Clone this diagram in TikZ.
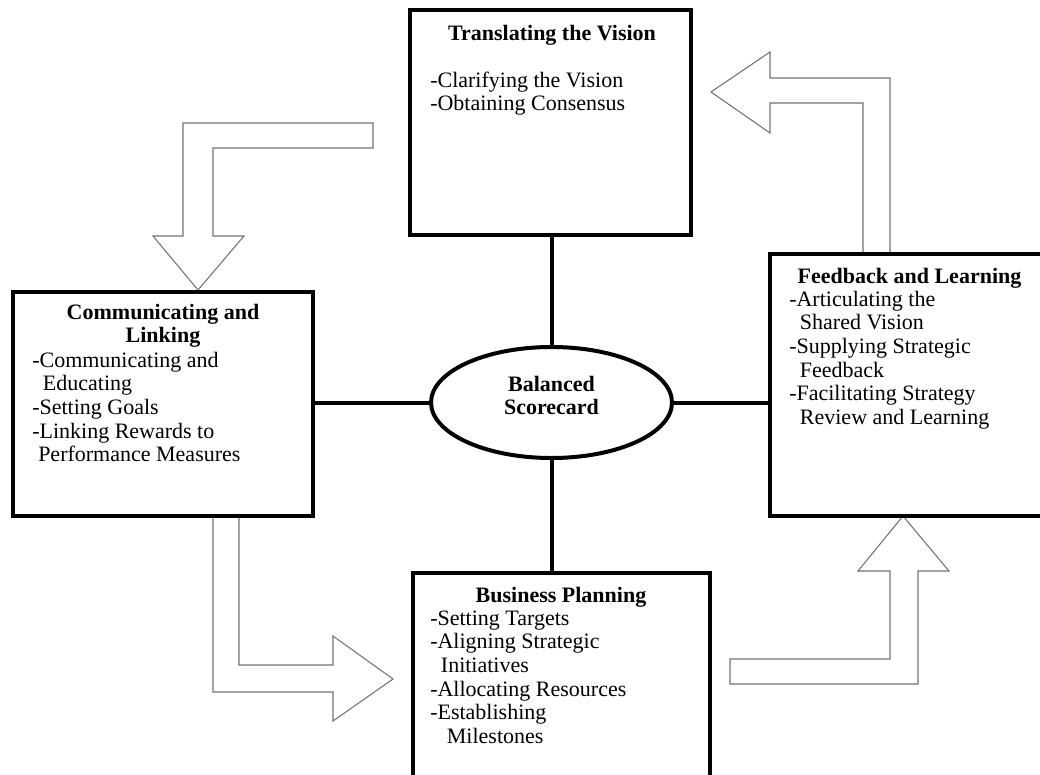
\documentclass[tikz,border=0pt]{standalone}
\usepackage{fontspec}
\setmainfont{Liberation Serif}
\usetikzlibrary{positioning,calc,fit,shapes.geometric}

% fixed height of a first line, so that its baseline lies 16px below the top
\newcommand{\topline}{\rule{0pt}{12pt}}

\tikzset{
  stage/.style={draw, line width=3.6pt, fill=white, inner sep=0pt},
  hub/.style={draw, ellipse, line width=3pt, fill=white, inner sep=0pt,
    minimum width=180.75pt, minimum height=83.25pt},
  link/.style={line width=3pt},
  head/.style={font=\fontsize{16.5}{17.7}\selectfont\bfseries, inner sep=0pt},
  items/.style={font=\fontsize{16.5}{17.7}\selectfont, align=left, inner sep=0pt, anchor=north west},
  blockarrow/.style={draw=black!55, line width=0.8pt, fill=white, line join=miter}
}

\begin{document}
\begin{tikzpicture}[x=0.75pt,y=-0.75pt]
 \useasboundingbox (0,0) rectangle (1040,775);

 %Arrows
 \draw[blockarrow] (373,123) -- (183,123) -- (183,236) -- (153,236) -- (198,290)
   -- (244,236) -- (213,236) -- (213,148) -- (373,148) -- cycle;
 \draw[blockarrow] (890,256) -- (890,78) -- (770,78) -- (770,52) -- (711,92)
   -- (770,133) -- (770,103) -- (863,103) -- (863,256) -- cycle;
 \draw[blockarrow] (213,515) -- (213,692) -- (333,692) -- (333,721) -- (393,679)
   -- (333,636) -- (333,665) -- (239,665) -- (239,515) -- cycle;
 \draw[blockarrow] (730,659) -- (890,659) -- (890,571) -- (858,571) -- (903,516)
   -- (949,571) -- (918,571) -- (918,684) -- (730,684) -- cycle;

 %Boxes
 \node[stage, fit={(410,10) (691,235)}] (vision) {};
 \node[stage, fit={(13,292) (313,516)}] (linking) {};
 \node[stage, fit={(770,254) (1049,516)}] (feedback) {};
 \node[stage, fit={(413,573) (710,813)}] (business) {};
 \node[hub] (scorecard) at (551.5,402.5) {};

 %Connectors
 \draw[link] (scorecard.north |- vision.south) -- (scorecard.north);
 \draw[link] (scorecard.south) -- (scorecard.south |- business.north);
 \draw[link] (scorecard.west) -- (scorecard.west -| linking.east);
 \draw[link] (scorecard.east) -- (scorecard.east -| feedback.west);

 %Names
 \node[head, anchor=base] (visionT) at (552,40) {Translating the Vision};
 \node[items] (visionL) at (430,71)
   {\topline-Clarifying the Vision\\-Obtaining Consensus};

 \node[head, align=center, anchor=north] (linkingT) at (163,303) {\topline Communicating and\\Linking};
 \node[items] (linkingL) at (32,351)
   {\topline-Communicating and\\\hspace*{8pt}Educating\\-Setting Goals\\-Linking Rewards to\\\hspace*{4.5pt}Performance Measures};

 \node[head, anchor=base] (feedbackT) at (909.5,283) {Feedback and Learning};
 \node[items] (feedbackL) at (789,290)
   {\topline-Articulating the\\\hspace*{8pt}Shared Vision\\-Supplying Strategic\\\hspace*{8pt}Feedback\\-Facilitating Strategy\\\hspace*{8pt}Review and Learning};

 \node[head, anchor=base] (businessT) at (561,602) {Business Planning};
 \node[items] (businessL) at (430,609)
   {\topline-Setting Targets\\-Aligning Strategic\\\hspace*{8pt}Initiatives\\-Allocating Resources\\-Establishing\\\hspace*{12.5pt}Milestones};

 \node[head, align=center, anchor=north] (scorecardT) at (551.5,375) {\topline Balanced\\Scorecard};
\end{tikzpicture}
\end{document}
